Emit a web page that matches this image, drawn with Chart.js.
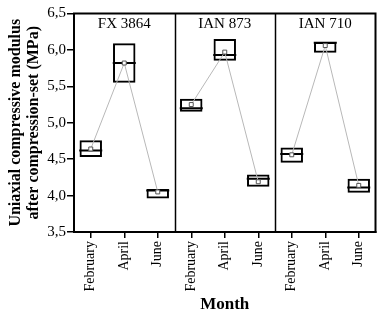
<!DOCTYPE html>
<html>
<head>
<meta charset="utf-8">
<script src="https://cdn.jsdelivr.net/npm/chart.js@4"></script>
<style>
  html, body { margin: 0; padding: 0; background: #fff; }
  #wrap { width: 389px; height: 315px; }
</style>
</head>
<body>
<div id="wrap"><canvas id="boxChart" width="389" height="315"></canvas></div>
<script>
const cultivars = ['FX 3864', 'IAN 873', 'IAN 710'];
const months = ['February', 'April', 'June'];
const yTicks = [3.5, 4.0, 4.5, 5.0, 5.5, 6.0, 6.5];

// box limits, median and mean, in order FX 3864 (Feb, Apr, Jun), IAN 873, IAN 710
const boxLow  = [4.53, 5.55, 3.96,   5.15, 5.85, 4.12,   4.45, 5.96, 4.04];
const boxHigh = [4.76, 6.09, 4.09,   5.33, 6.15, 4.29,   4.66, 6.11, 4.23];
const medians = [4.62, 5.82, 4.07,   5.20, 5.93, 4.23,   4.57, 6.10, 4.11];
const means   = [4.64, 5.82, 4.05,   5.25, 5.97, 4.19,   4.56, 6.06, 4.14];

const labels = [];
cultivars.forEach(() => months.forEach(m => labels.push(m)));

const serif = "'Liberation Serif', 'Times New Roman', serif";

const meanSets = cultivars.map((c, p) => ({
    type: 'line',
    label: c,
    data: means.map((v, i) => Math.floor(i / 3) === p ? v : null),
    borderColor: '#b8b8b8',
    borderWidth: 1,
    pointStyle: 'rect',
    pointRadius: 2.8,
    pointBackgroundColor: '#ffffff',
    pointBorderColor: '#555555',
    pointBorderWidth: 1,
    spanGaps: false,
    order: 0
}));

const panelPlugin = {
    id: 'panels',
    afterDraw(chart) {
        const ctx = chart.ctx;
        const area = chart.chartArea;
        const x = chart.scales.x;
        ctx.save();
        ctx.strokeStyle = '#000';
        ctx.lineWidth = 1.5;
        [2.5, 5.5].forEach(v => {
            const px = Math.round(x.getPixelForValue(v)) + 0.5;
            ctx.beginPath();
            ctx.moveTo(px, area.top);
            ctx.lineTo(px, area.bottom);
            ctx.stroke();
        });
        ctx.lineWidth = 2;
        ctx.strokeRect(area.left, area.top, area.right - area.left, area.bottom - area.top);
        ctx.fillStyle = '#000';
        ctx.font = '15px ' + serif;
        ctx.textAlign = 'center';
        ctx.textBaseline = 'middle';
        cultivars.forEach((c, p) => {
            const cx = x.getPixelForValue(p * 3 + 1);
            ctx.fillText(c, cx, area.top + 11);
        });
        ctx.restore();
    }
};

new Chart(document.getElementById('boxChart').getContext('2d'), {
    type: 'bar',
    data: {
        labels: labels,
        datasets: [
            ...meanSets,
            {
                type: 'line',
                label: 'median',
                data: medians,
                showLine: false,
                pointStyle: 'line',
                pointRadius: 11.5,
                pointBorderWidth: 2,
                pointBorderColor: '#000',
                borderColor: '#000',
                order: 1
            },
            {
                label: 'box',
                data: boxLow.map((l, i) => [l, boxHigh[i]]),
                backgroundColor: 'rgba(0,0,0,0)',
                borderColor: '#000',
                borderWidth: 2,
                borderSkipped: false,
                barPercentage: 0.67,
                categoryPercentage: 1,
                order: 2
            }
        ]
    },
    options: {
        responsive: false,
        animation: false,
        events: [],
        layout: { padding: { top: 12, right: 6, left: 0, bottom: 0 } },
        plugins: {
            legend: { display: false },
            tooltip: { enabled: false }
        },
        scales: {
            x: {
                offset: true,
                afterFit(scale) { scale.height = 83; },
                border: { display: true, color: '#000', width: 2 },
                grid: { offset: false, drawOnChartArea: false, color: '#000', lineWidth: 1.5, tickLength: 6 },
                ticks: {
                    color: '#000',
                    font: { family: serif, size: 14 },
                    minRotation: 90,
                    maxRotation: 90,
                    padding: 3,
                    autoSkip: false
                },
                title: {
                    display: true,
                    text: 'Month',
                    color: '#000',
                    font: { family: serif, size: 17, weight: 'bold' },
                    padding: { top: 0, bottom: 0 }
                }
            },
            y: {
                min: 3.5,
                max: 6.5,
                afterFit(scale) { scale.width = 74; },
                afterBuildTicks(scale) { scale.ticks = yTicks.map(v => ({ value: v })); },
                border: { display: true, color: '#000', width: 2 },
                grid: { drawOnChartArea: false, color: '#000', lineWidth: 1.5, tickLength: 7 },
                ticks: {
                    color: '#000',
                    font: { family: serif, size: 15 },
                    padding: 1,
                    callback: v => v.toFixed(1).replace('.', ',')
                },
                title: {
                    display: true,
                    text: ['Uniaxial compressive modulus', 'after compression-set (MPa)'],
                    color: '#000',
                    font: { family: serif, size: 16, weight: 'bold', lineHeight: 1.1 },
                    padding: { top: 7, bottom: 0 }
                }
            }
        }
    },
    plugins: [panelPlugin]
});
</script>
</body>
</html>
